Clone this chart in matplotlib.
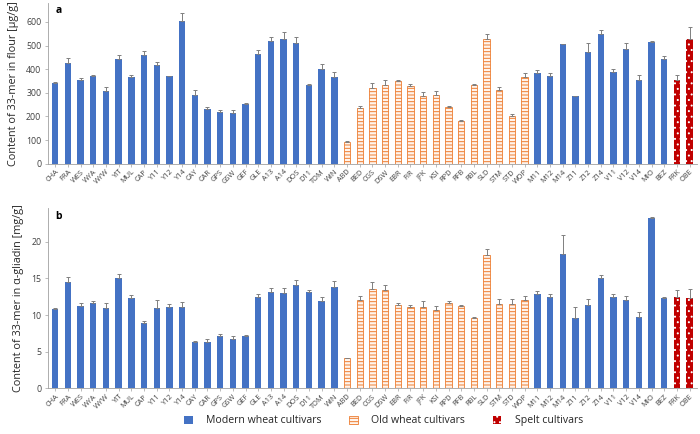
import matplotlib
matplotlib.use('Agg')
import matplotlib.pyplot as plt
from matplotlib.patches import Patch
import numpy as np

plt.rcParams['font.family'] = ['Open Sans', 'DejaVu Sans']
plt.rcParams['hatch.linewidth'] = 0.7

# cultivar codes in plot order
cultivars = ['CHA', 'FRA', 'WES', 'WYA', 'WYW', 'YIT', 'MUL', 'CAP', 'Y11', 'Y12', 'Y14',
             'CAY', 'CAR', 'GPS', 'GSW', 'GEF', 'GLE', 'A13', 'A14', 'DOS', 'D11', 'TOM', 'WIN',
             'ABD', 'BED', 'CGS', 'DSW', 'EBR', 'FIR', 'JFK', 'KSI', 'RPD', 'RFB', 'RBL', 'SLD',
             'STM', 'STD', 'WOP', 'M11', 'M12', 'M14', 'Z11', 'Z12', 'Z14', 'V11', 'V12', 'V14',
             'MIO', 'BEZ', 'FRK', 'OBE']
# group: 0 modern, 1 old, 2 spelt
group = [0] * 23 + [1] * 15 + [0] * 11 + [2] * 2

# panel a: 33-mer in flour [ug/g]
flour = [342, 424, 352, 372, 306, 443, 365, 461, 417, 370, 604,
         292, 230, 217, 214, 254, 464, 520, 528, 511, 332, 400, 368,
         91, 235, 319, 332, 349, 330, 285, 291, 241, 180, 335, 528,
         311, 201, 366, 382, 370, 506, 288, 474, 550, 386, 486, 356,
         517, 443, 356, 526]
flour_err = [4, 22, 11, 5, 17, 17, 11, 15, 12, 3, 34,
             21, 8, 8, 13, 4, 17, 18, 28, 25, 4, 20, 21,
             3, 11, 21, 20, 7, 6, 18, 17, 3, 4, 3, 22,
             15, 11, 17, 13, 13, 2, 0, 36, 14, 13, 25, 21,
             3, 11, 21, 52]

# panel b: 33-mer in alpha-gliadin [mg/g]
gliadin = [10.84, 14.49, 11.25, 11.7, 11.0, 15.0, 12.3, 8.88, 10.9, 11.07, 11.16,
           6.33, 6.38, 7.2, 6.74, 7.15, 12.4, 13.2, 13.0, 14.08, 13.1, 11.85, 13.8,
           4.15, 12.07, 13.5, 13.4, 11.4, 11.07, 11.1, 10.66, 11.6, 11.2, 9.57, 18.2,
           11.5, 11.5, 12.07, 12.85, 12.4, 18.3, 9.6, 11.3, 15.1, 12.4, 12.0, 9.8,
           23.2, 12.3, 12.4, 12.3]
gliadin_err = [0.15, 0.7, 0.35, 0.2, 0.6, 0.6, 0.4, 0.25, 1.17, 0.45, 0.6,
               0.17, 0.42, 0.2, 0.36, 0.15, 0.45, 0.5, 0.7, 0.72, 0.25, 0.55, 0.8,
               0.05, 0.55, 1.0, 0.7, 0.2, 0.23, 0.8, 0.54, 0.25, 0.2, 0.13, 0.8,
               0.7, 0.7, 0.55, 0.45, 0.45, 2.6, 1.47, 0.9, 0.3, 0.5, 0.6, 0.6,
               0.2, 0.2, 0.95, 1.2]

labels = ['Modern wheat cultivars', 'Old wheat cultivars', 'Spelt cultivars']

BLUE = '#4472C4'
ORANGE = '#ED7D31'
RED = '#C00000'


def draw_panel(ax, vals, errs, ymax, yticks, ylabel, letter):
    x = np.arange(len(cultivars))
    vals = np.array(vals)
    errs = np.array(errs)
    g = np.array(group)
    w = 0.5
    # modern
    m = g == 0
    ax.bar(x[m], vals[m], w, color=BLUE, linewidth=0)
    # old: white with orange horizontal stripes
    m = g == 1
    ax.bar(x[m], vals[m], w, facecolor='#FFF4EC', edgecolor=ORANGE,
           linewidth=0.6, hatch='-----')
    # spelt: dark red with white dots
    m = g == 2
    ax.bar(x[m], vals[m], w, facecolor=RED, edgecolor='white',
           linewidth=0, hatch='...')
    ax.errorbar(x, vals, yerr=[np.zeros_like(errs), errs], fmt='none',
                ecolor='#7F7F7F', elinewidth=0.7, capsize=1.3, capthick=0.7)

    ax.set_xlim(-0.6, len(cultivars) - 0.4)
    ax.set_ylim(0, ymax)
    ax.set_yticks(yticks)
    ax.set_xticks(x)
    ax.set_xticklabels(cultivars, rotation=45, ha='right', rotation_mode='anchor',
                       fontsize=5.3, color='#404040')
    ax.tick_params(axis='x', length=2, width=0.5, color='#A0A0A0', pad=1.5)
    ax.tick_params(axis='y', labelsize=6.3, length=2.5, width=0.5,
                   color='#A0A0A0', labelcolor='#404040', pad=2)
    for s in ['top', 'right']:
        ax.spines[s].set_visible(False)
    for s in ['left', 'bottom']:
        ax.spines[s].set_color('#A0A0A0')
        ax.spines[s].set_linewidth(0.6)
    ax.set_ylabel(ylabel, fontsize=7.8, color='#262626', labelpad=5)
    ax.text(0.012, 0.985, letter, transform=ax.transAxes, fontsize=7.5,
            fontweight='bold', va='top', ha='left')


fig = plt.figure(figsize=(7, 4.34), dpi=100)
ax1 = fig.add_axes([0.068, 0.623, 0.928, 0.37])
ax2 = fig.add_axes([0.068, 0.105, 0.928, 0.416])

draw_panel(ax1, flour, flour_err, 680, [0, 100, 200, 300, 400, 500, 600],
           'Content of 33-mer in flour [µg/g]', 'a')
draw_panel(ax2, gliadin, gliadin_err, 24.6, [0, 5, 10, 15, 20],
           'Content of 33-mer in α-gliadin [mg/g]', 'b')

handles = [Patch(facecolor=BLUE, linewidth=0),
           Patch(facecolor='#FFF4EC', edgecolor=ORANGE, linewidth=0.6, hatch='-----'),
           Patch(facecolor=RED, edgecolor='white', linewidth=0, hatch='...')]
fig.legend(handles, labels, loc='center', bbox_to_anchor=(0.548, 0.03), ncol=3,
           frameon=False, fontsize=7.6, handlelength=0.8, handleheight=0.8,
           columnspacing=2.6, handletextpad=1.3, labelcolor='#262626')

fig.savefig('out.png', dpi=100)
